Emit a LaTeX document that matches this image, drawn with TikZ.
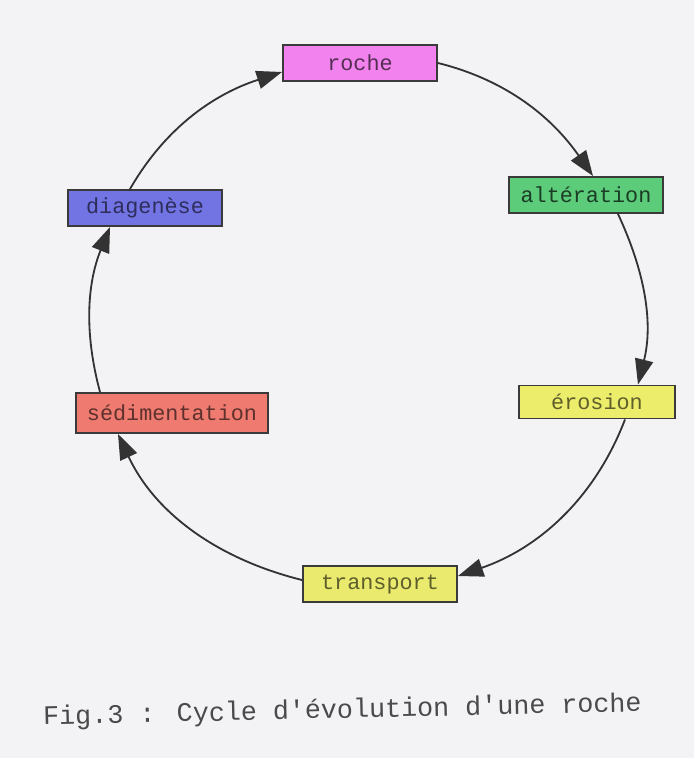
\documentclass[tikz,border=0pt]{standalone}
\usepackage{fontspec}
\newfontfamily\cyclemono{Liberation Mono}
\usetikzlibrary{arrows.meta,calc}
\definecolor{bg}{HTML}{F3F3F6}
\definecolor{boxline}{HTML}{3A3A3A}
\definecolor{linec}{HTML}{333333}
\definecolor{capc}{HTML}{4A4A4A}
\definecolor{rochec}{HTML}{F283EE}
\definecolor{altc}{HTML}{5CCB7A}
\definecolor{erosc}{HTML}{EDED6C}
\definecolor{transc}{HTML}{EAEA6E}
\definecolor{sedc}{HTML}{EE7A70}
\definecolor{diagc}{HTML}{7274E4}
\begin{document}
\begin{tikzpicture}[x=0.025cm,y=-0.025cm,
  box/.style={draw=boxline,line width=1.4pt,minimum width=3.85cm,minimum height=0.9cm,
    inner sep=0pt,font=\cyclemono\fontsize{15.5}{18}\selectfont},
  conn/.style={draw=linec,line width=1.3pt,-{Triangle[length=18pt,width=13pt]},looseness=0.95}]
\fill[bg] (0,0) rectangle (694,758);
\useasboundingbox (0,0) rectangle (694,758);
\node[box,fill=rochec,text=rochec!35!black] (roche) at (360,63) {roche};
\node[box,fill=altc,text=altc!30!black] (alt) at (586,195) {altération};
\node[box,fill=erosc,text=erosc!40!black,minimum width=3.875cm,minimum height=0.825cm] (eros) at (597,402) {érosion};
\node[box,fill=transc,text=transc!40!black] (trans) at (380,584) {transport};
\node[box,fill=sedc,text=sedc!40!black,minimum width=4.775cm,minimum height=1.0cm] (sedim) at (172,413) {sédimentation};
\node[box,fill=diagc,text=diagc!40!black] (diag) at (145,208) {diagenèse};
\draw[conn] (roche.east) to[out=-14,in=125] ($(alt.north)+(7,0)$);
\draw[conn] ($(alt.south)+(32,0)$) to[out=-65,in=76] ($(eros.north)+(41,0)$);
\draw[conn] ($(eros.south)+(28,0)$) to[out=-111,in=19] ($(trans.east)+(0,-8)$);
\draw[conn] ($(trans.west)+(0,-4)$) to[out=166,in=-65] ($(sedim.south)+(-54,0)$);
\draw[conn] ($(sedim.north)+(-72,0)$) to[out=105,in=248] ($(diag.south)+(-35,0)$);
\draw[conn] ($(diag.north)+(-15,0)$) to[out=60,in=198] ($(roche.west)+(0,9)$);
\node[anchor=west,rotate=1.3,text=capc,inner sep=0pt,font=\cyclemono\fontsize{19}{22}\selectfont] (cap) at (43,718) {Fig.3 : Cycle d'évolution d'une roche};
\end{tikzpicture}
\end{document}
